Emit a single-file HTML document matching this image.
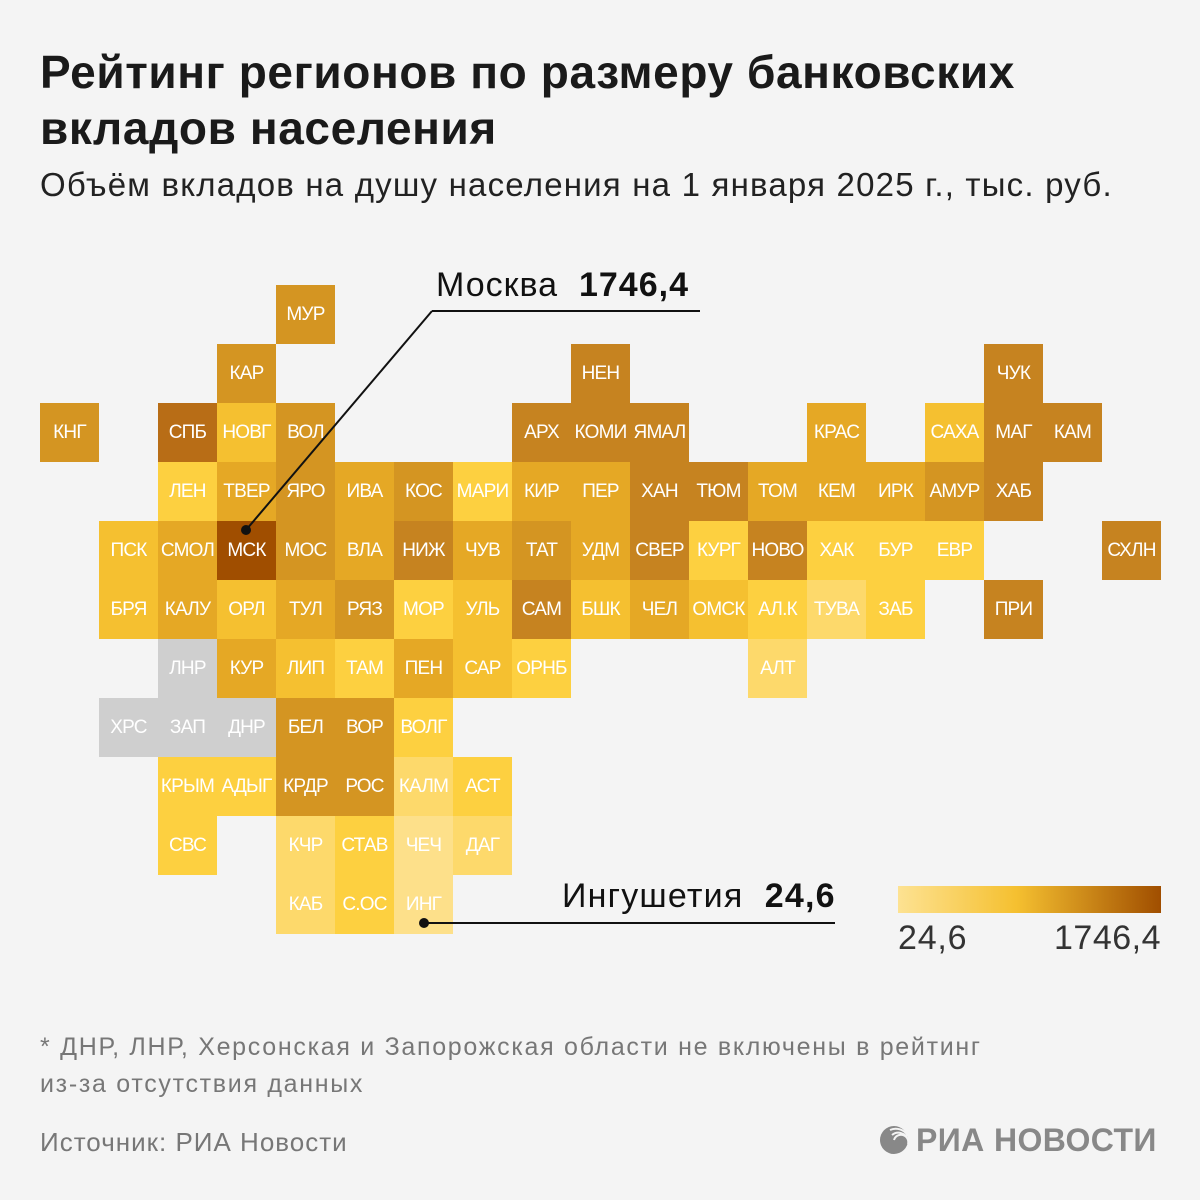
<!DOCTYPE html>
<html><head><meta charset="utf-8"><style>
body{margin:0;width:1200px;height:1200px;background:#f4f4f4;font-family:"Liberation Sans",sans-serif;position:relative;overflow:hidden}
.t{position:absolute;white-space:nowrap}
.c{position:absolute;width:59px;height:59px;color:#fff;font-size:19px;letter-spacing:-0.8px;display:flex;align-items:center;justify-content:center}
</style></head><body>
<div class="t" style="left:40px;top:44px;font-size:46px;letter-spacing:0.6px;font-weight:bold;color:#1a1a1a;line-height:56px">Рейтинг регионов по размеру банковских<br>вкладов населения</div>
<div class="t" style="left:40px;top:166px;font-size:33px;letter-spacing:1.2px;color:#222">Объём вкладов на душу населения на 1 января 2025 г., тыс. руб.</div>
<div id="map"></div>
<svg style="position:absolute;left:0;top:0" width="1200" height="1200">
<line x1="432" y1="311" x2="700" y2="311" stroke="#111" stroke-width="2"/>
<line x1="432" y1="311" x2="246" y2="530" stroke="#111" stroke-width="2"/>
<circle cx="246" cy="530" r="5" fill="#111"/>
<line x1="424" y1="923" x2="835" y2="923" stroke="#111" stroke-width="2"/>
<circle cx="424" cy="923" r="5" fill="#111"/>
<defs><linearGradient id="g"><stop offset="0" stop-color="#fde292"/><stop offset="0.45" stop-color="#f5c030"/><stop offset="1" stop-color="#a04e00"/></linearGradient></defs>
<rect x="898" y="886" width="263" height="27" fill="url(#g)"/>
<g transform="translate(880,1126)"><circle cx="14" cy="14" r="14" fill="#888"/><path d="M10 4 A14 14 0 0 1 28 10 M12 9 A10 10 0 0 1 28 14 M14 14 A6 6 0 0 1 28 18" stroke="#f4f4f4" stroke-width="2" fill="none"/></g>
</svg>
<div class="t" style="left:436px;top:266px;font-size:34px;letter-spacing:1px;color:#111">Москва&nbsp;&nbsp;<b>1746,4</b></div>
<div class="t" style="left:562px;top:877px;font-size:34px;letter-spacing:1.2px;color:#111">Ингушетия&nbsp;&nbsp;<b>24,6</b></div>
<div class="t" style="left:898px;top:919px;font-size:34px;letter-spacing:0.8px;color:#333">24,6</div>
<div class="t" style="right:39px;top:919px;font-size:34px;letter-spacing:0.5px;color:#333">1746,4</div>
<div class="t" style="left:40px;top:1029px;font-size:25px;letter-spacing:1.7px;color:#777;line-height:37px">* ДНР, ЛНР, Херсонская и Запорожская области не включены в рейтинг<br>из-за отсутствия данных</div>
<div class="t" style="left:40px;top:1127px;font-size:26px;letter-spacing:1px;color:#777">Источник: РИА Новости</div>
<div class="t" style="left:916px;top:1122px;font-size:32px;letter-spacing:0.4px;font-weight:bold;color:#888">РИА НОВОСТИ</div>
<script>
var C={1:"#fde08a",2:"#fdd96b",3:"#fdd040",4:"#f5c030",5:"#e5a825",6:"#d49522",7:"#c68320",8:"#b86d16",9:"#a04e00",0:"#cfcfcf"};
var D=[
[0,4,"МУР",6],
[1,3,"КАР",6],[1,9,"НЕН",7],[1,16,"ЧУК",7],
[2,0,"КНГ",6],[2,2,"СПБ",8],[2,3,"НОВГ",4],[2,4,"ВОЛ",6],[2,8,"АРХ",7],[2,9,"КОМИ",7],[2,10,"ЯМАЛ",7],[2,13,"КРАС",5],[2,15,"САХА",4],[2,16,"МАГ",7],[2,17,"КАМ",7],
[3,2,"ЛЕН",3],[3,3,"ТВЕР",5],[3,4,"ЯРО",6],[3,5,"ИВА",5],[3,6,"КОС",6],[3,7,"МАРИ",3],[3,8,"КИР",5],[3,9,"ПЕР",5],[3,10,"ХАН",7],[3,11,"ТЮМ",7],[3,12,"ТОМ",5],[3,13,"КЕМ",5],[3,14,"ИРК",5],[3,15,"АМУР",6],[3,16,"ХАБ",7],
[4,1,"ПСК",4],[4,2,"СМОЛ",5],[4,3,"МСК",9],[4,4,"МОС",6],[4,5,"ВЛА",5],[4,6,"НИЖ",7],[4,7,"ЧУВ",5],[4,8,"ТАТ",6],[4,9,"УДМ",5],[4,10,"СВЕР",7],[4,11,"КУРГ",3],[4,12,"НОВО",7],[4,13,"ХАК",3],[4,14,"БУР",3],[4,15,"ЕВР",3],[4,18,"СХЛН",7],
[5,1,"БРЯ",4],[5,2,"КАЛУ",5],[5,3,"ОРЛ",4],[5,4,"ТУЛ",5],[5,5,"РЯЗ",6],[5,6,"МОР",3],[5,7,"УЛЬ",4],[5,8,"САМ",7],[5,9,"БШК",4],[5,10,"ЧЕЛ",5],[5,11,"ОМСК",4],[5,12,"АЛ.К",3],[5,13,"ТУВА",2],[5,14,"ЗАБ",3],[5,16,"ПРИ",7],
[6,2,"ЛНР",0],[6,3,"КУР",5],[6,4,"ЛИП",4],[6,5,"ТАМ",3],[6,6,"ПЕН",5],[6,7,"САР",4],[6,8,"ОРНБ",3],[6,12,"АЛТ",2],
[7,1,"ХРС",0],[7,2,"ЗАП",0],[7,3,"ДНР",0],[7,4,"БЕЛ",6],[7,5,"ВОР",6],[7,6,"ВОЛГ",3],
[8,2,"КРЫМ",3],[8,3,"АДЫГ",3],[8,4,"КРДР",6],[8,5,"РОС",6],[8,6,"КАЛМ",2],[8,7,"АСТ",3],
[9,2,"СВС",3],[9,4,"КЧР",2],[9,5,"СТАВ",3],[9,6,"ЧЕЧ",1],[9,7,"ДАГ",2],
[10,4,"КАБ",2],[10,5,"С.ОС",3],[10,6,"ИНГ",1]];
var h="";D.forEach(function(d){h+='<div class="c" style="left:'+(40+59*d[1])+'px;top:'+(285+59*d[0])+'px;background:'+C[d[3]]+'">'+d[2]+'</div>';});
document.getElementById("map").innerHTML=h;
</script>
</body></html>
